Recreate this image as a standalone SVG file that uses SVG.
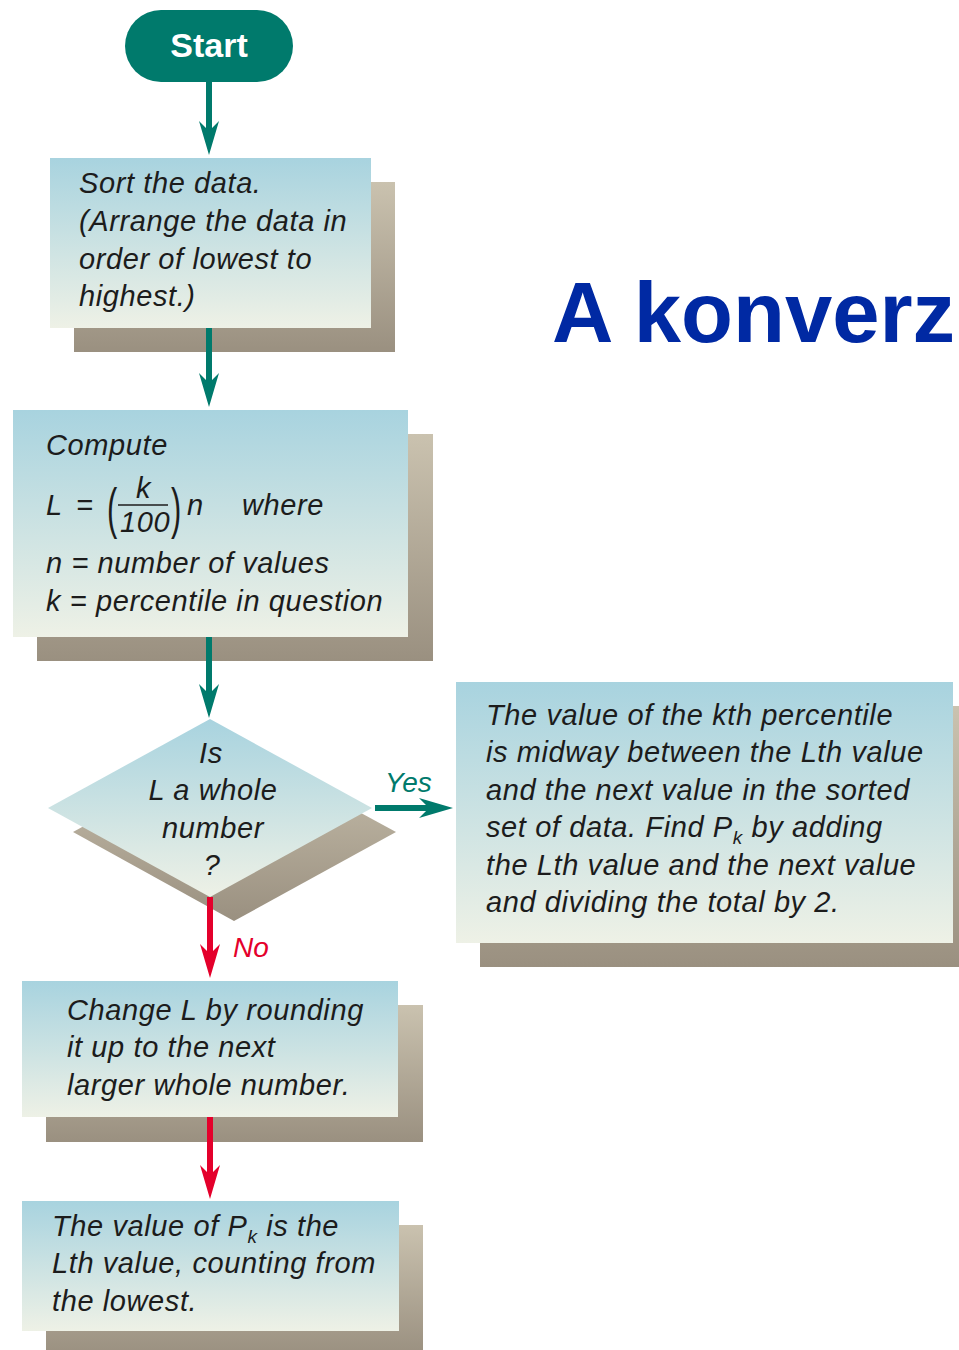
<svg xmlns="http://www.w3.org/2000/svg" width="959" height="1350" viewBox="0 0 959 1350">
<style>
.t{font-family:"Liberation Sans",Arial,sans-serif;font-style:italic;font-size:29px;letter-spacing:0.6px;fill:#1c1c1c}
.tc{text-anchor:middle}
.box{fill:url(#gBox)}
.sh{fill:url(#gSh)}
.teal{stroke:#007A6C;stroke-width:6;fill:none}
.red{stroke:#E4002B;stroke-width:6;fill:none}
</style>
<defs>
<linearGradient id="gBox" x1="0" y1="0" x2="0" y2="1">
<stop offset="0" stop-color="#A8D3DF"/>
<stop offset="1" stop-color="#EEF1E6"/>
</linearGradient>
<linearGradient id="gSh" x1="0" y1="0" x2="0" y2="1">
<stop offset="0" stop-color="#CAC2AF"/>
<stop offset="1" stop-color="#9A9080"/>
</linearGradient>
<marker id="aT" viewBox="0 0 34 20" refX="10" refY="10" markerWidth="34" markerHeight="20" markerUnits="userSpaceOnUse" orient="auto">
<path d="M34,10 L0,0 L10,10 L0,20 Z" fill="#007A6C"/>
</marker>
<marker id="aR" viewBox="0 0 34 20" refX="10" refY="10" markerWidth="34" markerHeight="20" markerUnits="userSpaceOnUse" orient="auto">
<path d="M34,10 L0,0 L10,10 L0,20 Z" fill="#E4002B"/>
</marker>
</defs>
<rect width="959" height="1350" fill="#ffffff"/>

<g id="title">
<text x="552" y="342" font-family="Liberation Sans,Arial,sans-serif" font-weight="bold" font-size="85" fill="#0029A3">A konverz</text>
</g>

<g id="start">
<rect x="125" y="10" width="168" height="72" rx="36" ry="36" fill="#007A6C"/>
<text x="209" y="57" text-anchor="middle" font-family="Liberation Sans,Arial,sans-serif" font-weight="bold" font-size="34" fill="#ffffff">Start</text>
</g>

<g id="sort">
<rect class="sh" x="74" y="182" width="321" height="170"/>
<rect class="box" x="50" y="158" width="321" height="170"/>
<text class="t" x="79" y="193">Sort the data.</text>
<text class="t" x="79" y="231">(Arrange the data in</text>
<text class="t" x="79" y="269">order of lowest to</text>
<text class="t" x="79" y="306">highest.)</text>
</g>

<g id="compute">
<rect class="sh" x="37" y="434" width="396" height="227"/>
<rect class="box" x="13" y="410" width="395" height="227"/>
<text class="t" x="46" y="455">Compute</text>
<text class="t" x="46" y="515">L</text>
<text class="t" x="76" y="515">=</text>
<text x="107" y="527" font-family="Liberation Sans,Arial,sans-serif" font-size="56" fill="#1c1c1c" transform="translate(107,527) scale(0.55,1) translate(-107,-527)">(</text>
<text class="t" x="136" y="498">k</text>
<line x1="118" y1="505" x2="168" y2="505" stroke="#1c1c1c" stroke-width="1.5"/>
<text class="t" x="120" y="532" font-size="26" letter-spacing="-1">100</text>
<text x="171" y="527" font-family="Liberation Sans,Arial,sans-serif" font-size="56" fill="#1c1c1c" transform="translate(171,527) scale(0.55,1) translate(-171,-527)">)</text>
<text class="t" x="187" y="515">n</text>
<text class="t" x="242" y="515">where</text>
<text class="t" x="46" y="573">n = number of values</text>
<text class="t" x="46" y="611">k = percentile in question</text>
</g>

<g id="decision">
<polygon points="234,744 396,832 234,921 73,832" fill="url(#gSh)"/>
<polygon points="210,719 372,808 210,897 48,808" fill="url(#gBox)"/>
<text class="t tc" x="211" y="763">Is</text>
<text class="t tc" x="213" y="800">L a whole</text>
<text class="t tc" x="213" y="838">number</text>
<text class="t tc" x="212" y="875">?</text>
</g>

<g id="midway">
<rect class="sh" x="480" y="706" width="479" height="261"/>
<rect class="box" x="456" y="682" width="497" height="261"/>
<text class="t" x="486" y="725">The value of the kth percentile</text>
<text class="t" x="486" y="762">is midway between the Lth value</text>
<text class="t" x="486" y="800">and the next value in the sorted</text>
<text class="t" x="486" y="837">set of data. Find P<tspan font-size="19" dy="7">k</tspan><tspan dy="-7"> by adding</tspan></text>
<text class="t" x="486" y="875">the Lth value and the next value</text>
<text class="t" x="486" y="912">and dividing the total by 2.</text>
</g>

<g id="round">
<rect class="sh" x="46" y="1005" width="377" height="137"/>
<rect class="box" x="22" y="981" width="376" height="136"/>
<text class="t" x="67" y="1020">Change L by rounding</text>
<text class="t" x="67" y="1057">it up to the next</text>
<text class="t" x="67" y="1095">larger whole number.</text>
</g>

<g id="result">
<rect class="sh" x="46" y="1225" width="377" height="130"/>
<rect class="box" x="22" y="1201" width="377" height="130"/>
<text class="t" x="52" y="1236">The value of P<tspan font-size="19" dy="7">k</tspan><tspan dy="-7"> is the</tspan></text>
<text class="t" x="52" y="1273">Lth value, counting from</text>
<text class="t" x="52" y="1311">the lowest.</text>
</g>

<g id="connectors">
<line class="teal" x1="209" y1="82" x2="209" y2="131" marker-end="url(#aT)"/>
<line class="teal" x1="209" y1="328" x2="209" y2="383" marker-end="url(#aT)"/>
<line class="teal" x1="209" y1="637" x2="209" y2="694" marker-end="url(#aT)"/>
<line class="teal" x1="375" y1="808" x2="429" y2="808" marker-end="url(#aT)"/>
<line class="red" x1="210" y1="897" x2="210" y2="954" marker-end="url(#aR)"/>
<line class="red" x1="210" y1="1117" x2="210" y2="1175" marker-end="url(#aR)"/>
<text x="385" y="792" font-family="Liberation Sans,Arial,sans-serif" font-style="italic" font-size="28" fill="#007A6C">Yes</text>
<text x="233" y="957" font-family="Liberation Sans,Arial,sans-serif" font-style="italic" font-size="28" fill="#E4002B">No</text>
</g>
</svg>
